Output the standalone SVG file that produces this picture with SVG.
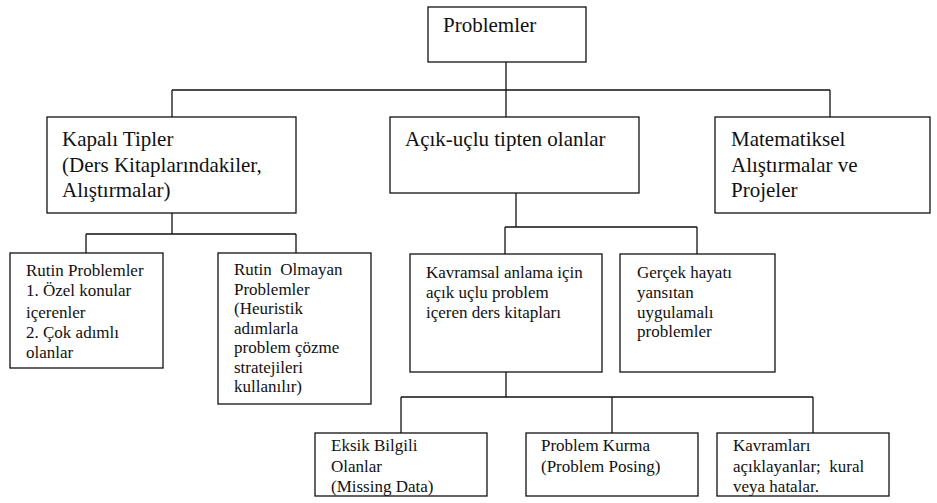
<svg xmlns="http://www.w3.org/2000/svg" width="937" height="503" viewBox="0 0 937 503">
<style>
rect{fill:#fff;stroke:#111;stroke-width:1.3}
.c line{stroke:#111;stroke-width:1.3}
text{font-family:"Liberation Serif","Times New Roman",serif;fill:#111;white-space:pre}
.L{font-size:21px}
.S{font-size:17px}
</style>
<rect x="0" y="0" width="937" height="503" style="stroke:none"/>
<g class="c" id="connectors">
<line x1="506" y1="62" x2="506" y2="90"/>
<line x1="172" y1="90" x2="830" y2="90"/>
<line x1="172" y1="90" x2="172" y2="117"/>
<line x1="506" y1="90" x2="506" y2="117"/>
<line x1="830" y1="90" x2="830" y2="117"/>
<line x1="172" y1="213" x2="172" y2="234"/>
<line x1="86" y1="234" x2="296" y2="234"/>
<line x1="86" y1="234" x2="86" y2="253"/>
<line x1="296" y1="234" x2="296" y2="253"/>
<line x1="516" y1="193" x2="516" y2="227"/>
<line x1="505" y1="227" x2="697" y2="227"/>
<line x1="505" y1="227" x2="505" y2="254"/>
<line x1="697" y1="227" x2="697" y2="254"/>
<line x1="506" y1="372" x2="506" y2="397"/>
<line x1="401" y1="397" x2="813" y2="397"/>
<line x1="401" y1="397" x2="401" y2="433"/>
<line x1="612" y1="397" x2="612" y2="433"/>
<line x1="813" y1="397" x2="813" y2="433"/>
</g>
<g id="problemler">
<rect x="428" y="7" width="158" height="55"/>
<text class="L" x="443" y="32">Problemler</text>
</g>
<g id="kapali">
<rect x="47" y="117" width="249" height="96"/>
<text class="L" x="62" y="146">Kapalı Tipler</text>
<text class="L" x="62" y="172">(Ders Kitaplarındakiler,</text>
<text class="L" x="62" y="197">Alıştırmalar)</text>
</g>
<g id="acik">
<rect x="390" y="117" width="249" height="76"/>
<text class="L" x="405" y="146">Açık-uçlu tipten olanlar</text>
</g>
<g id="matematiksel">
<rect x="715" y="117" width="215" height="96"/>
<text class="L" x="731" y="146">Matematiksel</text>
<text class="L" x="731" y="172">Alıştırmalar ve</text>
<text class="L" x="731" y="197">Projeler</text>
</g>
<g id="rutin">
<rect x="10" y="253" width="153" height="115"/>
<text class="S" x="26" y="276">Rutin Problemler</text>
<text class="S" x="26" y="296">1. Özel konular</text>
<text class="S" x="26" y="318">içerenler</text>
<text class="S" x="26" y="338">2. Çok adımlı</text>
<text class="S" x="26" y="358">olanlar</text>
</g>
<g id="rutin-olmayan">
<rect x="218" y="253" width="153" height="151"/>
<text class="S" x="234" y="275">Rutin  Olmayan</text>
<text class="S" x="234" y="294.5">Problemler</text>
<text class="S" x="234" y="314">(Heuristik</text>
<text class="S" x="234" y="333.5">adımlarla</text>
<text class="S" x="234" y="353">problem çözme</text>
<text class="S" x="234" y="372.5">stratejileri</text>
<text class="S" x="234" y="392">kullanılır)</text>
</g>
<g id="kavramsal">
<rect x="410" y="254" width="192" height="118"/>
<text class="S" x="426" y="278">Kavramsal anlama için</text>
<text class="S" x="426" y="298">açık uçlu problem</text>
<text class="S" x="426" y="318">içeren ders kitapları</text>
</g>
<g id="gercek">
<rect x="620" y="254" width="155" height="118"/>
<text class="S" x="637" y="278">Gerçek hayatı</text>
<text class="S" x="637" y="298">yansıtan</text>
<text class="S" x="637" y="318">uygulamalı</text>
<text class="S" x="637" y="337">problemler</text>
</g>
<g id="eksik">
<rect x="315" y="433" width="172" height="63"/>
<text class="S" x="331" y="451">Eksik Bilgili</text>
<text class="S" x="331" y="472">Olanlar</text>
<text class="S" x="331" y="492">(Missing Data)</text>
</g>
<g id="problem-kurma">
<rect x="526" y="433" width="172" height="63"/>
<text class="S" x="541" y="451">Problem Kurma</text>
<text class="S" x="541" y="472">(Problem Posing)</text>
</g>
<g id="kavramlari">
<rect x="717" y="433" width="172" height="63"/>
<text class="S" x="733" y="451">Kavramları</text>
<text class="S" x="733" y="472">açıklayanlar;  kural</text>
<text class="S" x="733" y="492">veya hatalar.</text>
</g>
</svg>
